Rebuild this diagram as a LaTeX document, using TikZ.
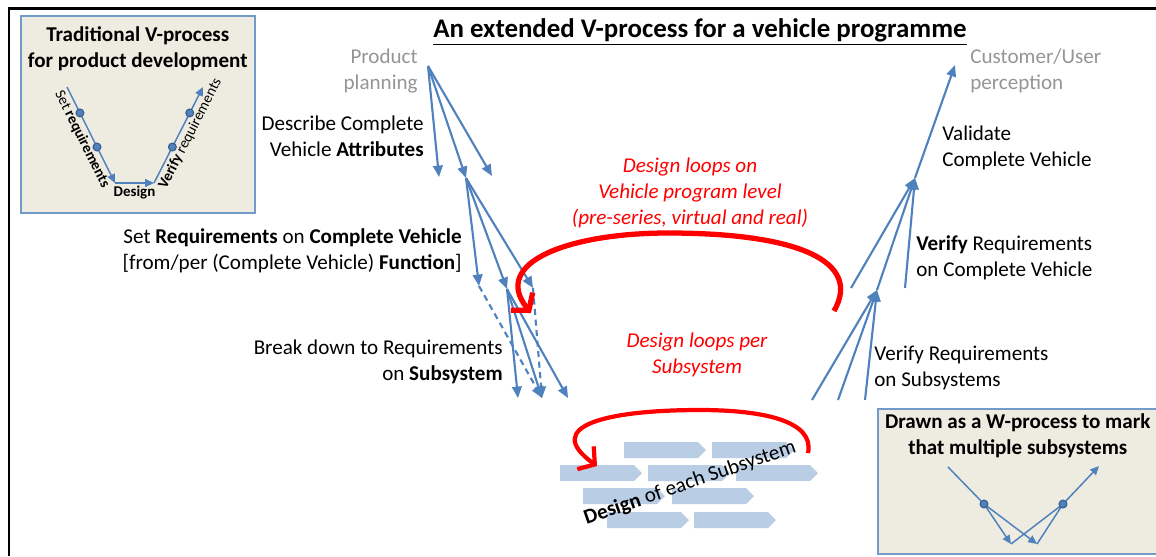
\documentclass[tikz,border=0pt]{standalone}
\usepackage{fontspec}
\setmainfont{Carlito}
\usetikzlibrary{arrows.meta,positioning}
\definecolor{vblue}{HTML}{4F81BD}
\definecolor{vdark}{HTML}{385D8A}
\definecolor{tan}{HTML}{EEECE1}
\definecolor{chipblue}{HTML}{B9CDE5}
\definecolor{planGrey}{HTML}{959595}

\begin{document}
\begin{tikzpicture}[x=0.02cm,y=-0.02cm,font=\fontsize{12}{14.6}\selectfont]
	\tikzstyle{flow} = [draw=vblue, line width=1.2pt, -{Triangle[length=6.5pt,width=5.5pt]}];
	\tikzstyle{thinflow} = [draw=vblue, line width=0.85pt, -{Triangle[length=5pt,width=4.5pt]}];
	\tikzstyle{vdot} = [circle, fill=vblue, draw=vdark, line width=0.6pt, inner sep=0pt, minimum size=4.5pt];
	\tikzstyle{lblR} = [inner sep=0pt, align=right, anchor=east];
	\tikzstyle{lblL} = [inner sep=0pt, align=left, anchor=west];
	\tikzstyle{loopnote} = [inner sep=0pt, align=center, text=red, font=\fontsize{12}{14.6}\selectfont\itshape];
	\tikzstyle{redloop} = [draw=red, line width=3pt, -{Straight Barb[length=6.5pt,width=16pt]}];
	\tikzstyle{panel} = [rectangle, draw=vblue!80, fill=tan, line width=0.9pt, inner sep=0pt];
	\tikzstyle{boxtitle} = [inner sep=0pt, align=center, font=\fontsize{12}{14.6}\selectfont\bfseries];
	\tikzstyle{small} = [inner sep=1.5pt, font=\fontsize{8.5}{10}\selectfont];
	\useasboundingbox (0,0) rectangle (1156,556);
	\draw [line width=1.7pt] (9,556) -- (9,8) -- (1156,8);

	\draw node [inner sep=0pt, font=\fontsize{15.3}{18}\selectfont\bfseries] (title) at (700,32) {\underline{An extended V-process for a vehicle programme}};

	% traditional V
	\draw node [panel, minimum width=4.68cm, minimum height=3.94cm, anchor=north west] (oldbox) at (20,15) {};
	\draw node [boxtitle, below=6.5pt of oldbox.north] (oldtitle) {Traditional V-process\\for product development};
	\coordinate (v0) at (67,87);
	\coordinate (vb1) at (115,183);
	\coordinate (vb2) at (154,183);
	\coordinate (vt) at (203,87);
	\draw [thinflow] (v0) -- (vb1) node [vdot, pos=0.27] (vd1) {} node [vdot, pos=0.625] (vd2) {}
		node [small, sloped, below, midway] (setlbl) {Set \textbf{requirements}};
	\draw [thinflow] (vb1) -- (vb2) node [small, below, midway] (deslbl) {\textbf{Design}};
	\draw [thinflow] (vb2) -- (vt) node [vdot, pos=0.375] (vd3) {} node [vdot, pos=0.73] (vd4) {}
		node [small, sloped, below, pos=0.56] (verlbl) {\textbf{Verify} requirements};

	% left leg
	\coordinate (pp) at (428,66);
	\coordinate (a1) at (439,177);
	\coordinate (a2) at (466,178);
	\coordinate (a3) at (492,176);
	\coordinate (r1) at (479,286);
	\coordinate (r2) at (507,289);
	\coordinate (r3) at (533,288);
	\coordinate (s1) at (518,398);
	\coordinate (s2) at (542,398);
	\coordinate (s3) at (568,398);
	\foreach \t in {a1,a2,a3} \draw [flow] (pp) -- (\t);
	\foreach \t in {r1,r2,r3} \draw [flow] (a2) -- (\t);
	\foreach \t in {s1,s2,s3} \draw [flow] (r2) -- (\t);
	\draw [flow, dash pattern=on 3.5pt off 2.5pt] (r1) -- (s2);
	\draw [flow, dash pattern=on 3.5pt off 2.5pt] (r3) -- (s2);

	\draw node [lblR, text=planGrey] (plan) at (418,71) {Product\\planning};
	\draw node [lblR] (attr) at (424,136) {Describe Complete\\Vehicle \textbf{Attributes}};
	\draw node [lblR] (setreq) at (462,251) {Set \textbf{Requirements} on \textbf{Complete Vehicle}\\{[}from/per (Complete Vehicle) \textbf{Function}]};
	\draw node [lblR] (brk) at (503,362) {Break down to Requirements\\on \textbf{Subsystem}};

	% right leg
	\coordinate (u1) at (812,400);
	\coordinate (u2) at (838,400);
	\coordinate (u3) at (865,400);
	\coordinate (d) at (877,290);
	\coordinate (t1) at (851,288);
	\coordinate (t3) at (905,288);
	\coordinate (e) at (915,178);
	\coordinate (f) at (955,65);
	\foreach \s in {u1,u2,u3} \draw [flow] (\s) -- (d);
	\foreach \s in {t1,d,t3} \draw [flow] (\s) -- (e);
	\draw [flow] (e) -- (f);

	\draw node [lblL, text=planGrey] (cust) at (970,71) {Customer/User\\perception};
	\draw node [lblL] (valid) at (942,148) {Validate\\Complete Vehicle};
	\draw node [lblL] (vcv) at (916,258) {\textbf{Verify} Requirements\\on Complete Vehicle};
	\draw node [lblL] (vss) at (874,368) {Verify Requirements\\on Subsystems};

	% subsystems
	\foreach \cx/\cy in {624/442,712/442,560/465,648/465,736/465,583/488,672/488,607/512,694/512}
		\fill [chipblue] (\cx,\cy) -- ++(74,0) -- ++(8,8) -- ++(-8,8) -- ++(-74,0) -- cycle;
	\draw node [inner sep=0pt, rotate=19] (subdes) at (690,483) {\textbf{Design} of each Subsystem};

	% design loops
	\draw node [loopnote] (vloop) at (690,193) {Design loops on\\Vehicle program level\\(pre-series, virtual and real)};
	\draw node [loopnote] (sloop) at (697,355) {Design loops per\\Subsystem};
	\coordinate (bl0) at (834,311);
	\coordinate (blt) at (668,233);
	\coordinate (bl1) at (531,313);
	\draw [redloop] (bl0) .. controls (862,262) and (800,233) .. (blt) .. controls (570,233) and (490,262) .. (bl1);
	\coordinate (sl0) at (808,453);
	\coordinate (slt) at (700,410);
	\coordinate (sl1) at (597,466);
	\draw [redloop, line width=2.4pt] (sl0) .. controls (815,420) and (760,410) .. (slt) .. controls (610,410) and (540,425) .. (sl1);

	% W inset
	\draw node [panel, minimum width=5.6cm, minimum height=2.9cm, anchor=north west] (wbox) at (877,408) {};
	\draw node [boxtitle, below=3pt of wbox.north] (wtitle) {Drawn as a W-process to mark\\that multiple subsystems};
	\coordinate (w0) at (948,467);
	\coordinate (wa) at (984,504);
	\coordinate (wb1) at (1011,544);
	\coordinate (wb2) at (1037,544);
	\coordinate (wc) at (1063,504);
	\coordinate (wtop) at (1099,466);
	\draw [draw=vblue, line width=0.85pt] (w0) -- (wa);
	\draw [thinflow] (wa) -- (wb1);
	\draw [thinflow] (wa) -- (wb2);
	\draw [draw=vblue, line width=0.85pt] (wb1) -- (wc) (wb2) -- (wc);
	\draw [thinflow] (wc) -- (wtop);
	\draw node [vdot] (wdot1) at (wa) {};
	\draw node [vdot] (wdot2) at (wc) {};
\end{tikzpicture}
\end{document}
